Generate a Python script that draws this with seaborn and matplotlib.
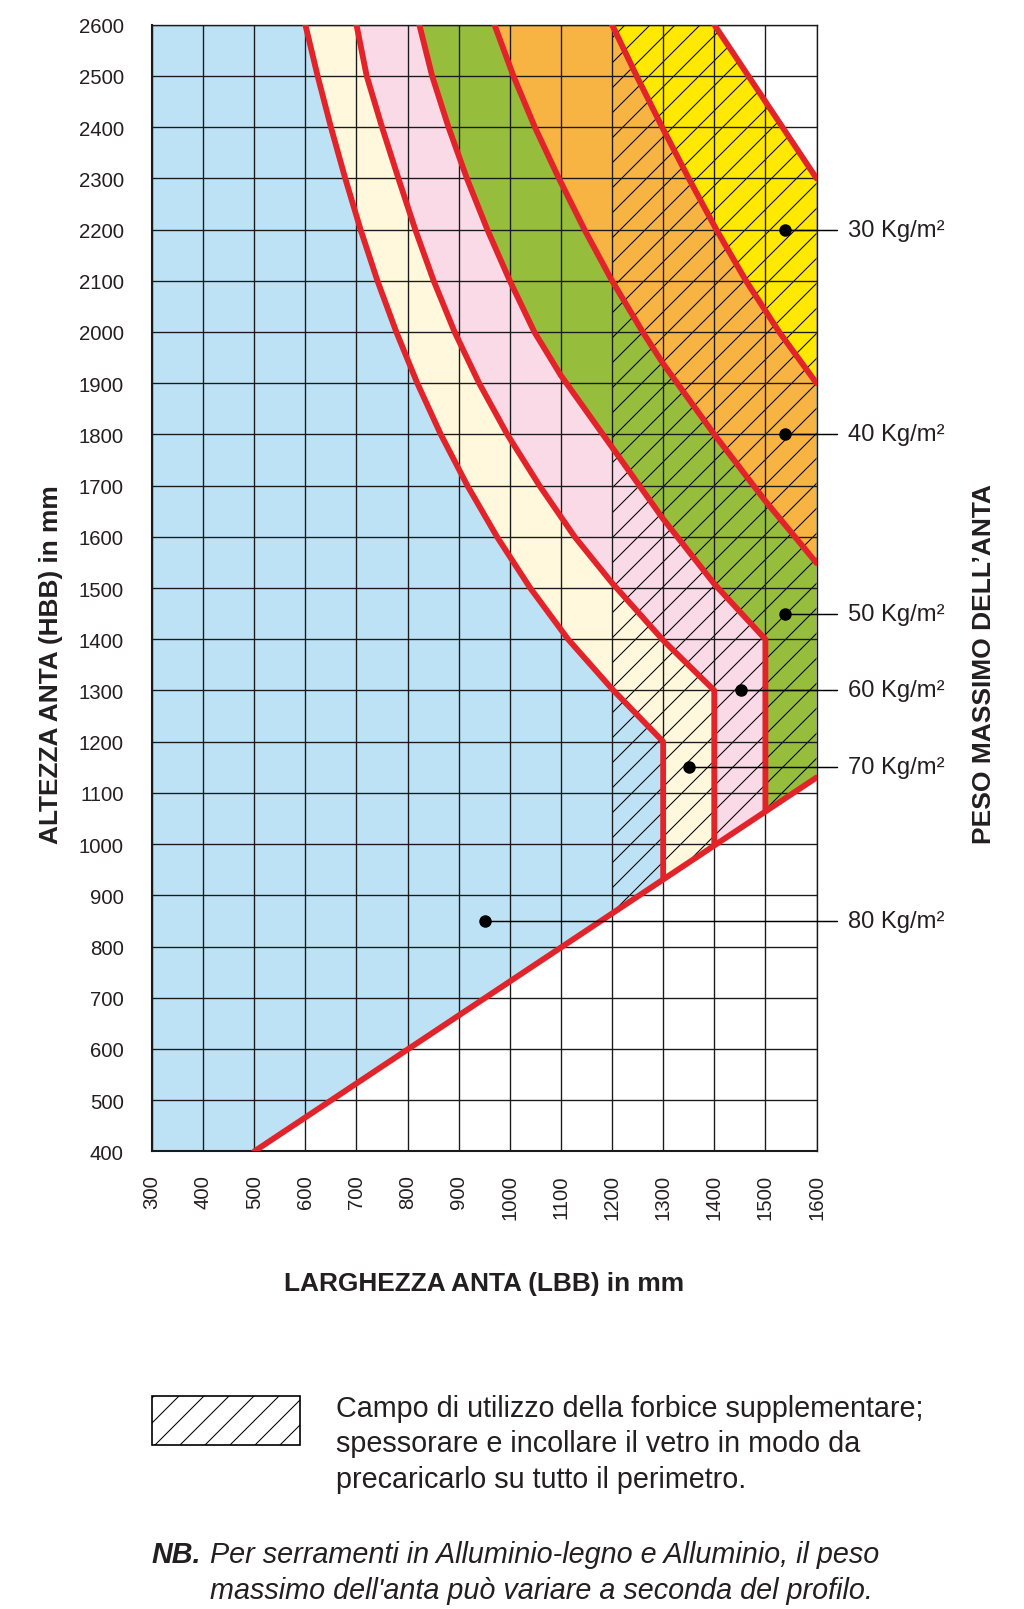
import matplotlib
matplotlib.use("Agg")
import matplotlib.pyplot as plt
import seaborn as sns
from matplotlib import font_manager
from matplotlib.patches import Rectangle

# ---------------- data ----------------
x_ticks = [300, 400, 500, 600, 700, 800, 900, 1000, 1100, 1200, 1300, 1400, 1500, 1600]
y_ticks = [400, 500, 600, 700, 800, 900, 1000, 1100, 1200, 1300, 1400, 1500,
           1600, 1700, 1800, 1900, 2000, 2100, 2200, 2300, 2400, 2500, 2600]

# boundary blue (80) | cream (70)
lim80_w = [600, 624, 650, 678, 708, 741, 778, 819, 865, 917, 975, 1040, 1114, 1200, 1300, 1300]
lim80_h = [2600, 2500, 2400, 2300, 2200, 2100, 2000, 1900, 1800, 1700, 1600, 1500, 1400, 1303, 1200, 932]
# boundary cream (70) | pink (60)
lim70_w = [700, 720, 750, 782, 815, 851, 892, 940, 995, 1058, 1127, 1200, 1300, 1400, 1400]
lim70_h = [2600, 2500, 2400, 2300, 2200, 2100, 2000, 1900, 1800, 1700, 1600, 1510, 1398, 1300, 998]
# boundary pink (60) | green (50)
lim60_w = [823, 848, 880, 916, 956, 1000, 1048, 1100, 1200, 1300, 1400, 1500, 1500]
lim60_h = [2600, 2500, 2400, 2300, 2200, 2100, 2000, 1915, 1775, 1635, 1508, 1400, 1064]
# boundary green (50) | orange (40)
lim50_w = [970, 1007, 1049, 1096, 1146, 1200, 1260, 1300, 1400, 1500, 1600]
lim50_h = [2600, 2500, 2400, 2300, 2200, 2100, 2000, 1938, 1800, 1670, 1549]
# boundary orange (40) | yellow (30)
lim40_w = [1200, 1248, 1298, 1350, 1404, 1462, 1527, 1600]
lim40_h = [2600, 2500, 2400, 2300, 2200, 2100, 2000, 1900]
# outer limit of yellow (30)
lim30_w = [1400, 1500, 1600]
lim30_h = [2600, 2450, 2300]
# lower limit line
min_w = [500, 1600]
min_h = [400, 1130]

hatch_from = 1200   # start of the hatched field (mm)

label_text = ["30 Kg/m²", "40 Kg/m²", "50 Kg/m²", "60 Kg/m²", "70 Kg/m²", "80 Kg/m²"]
dot_x = [1539, 1539, 1539, 1452, 1350, 952]
dot_y = [2200, 1800, 1450, 1300, 1150, 850]
leader_end = 1640
label_x = 1661

# ---------------- style ----------------
BLUE = "#BEE2F5"
CREAM = "#FFF8DC"
PINK = "#F9DAE6"
GREEN = "#96BD3C"
ORANGE = "#F8B443"
YELLOW = "#FFE900"
RED = "#E3232A"
INK = "#231F20"

sns.set_theme(style="white")
names = {f.name for f in font_manager.fontManager.ttflist}
NARROW = "Liberation Sans Narrow" if "Liberation Sans Narrow" in names else "Liberation Sans"
plt.rcParams["font.family"] = [NARROW, "DejaVu Sans"]
plt.rcParams["hatch.linewidth"] = 0.5
plt.rcParams["hatch.color"] = "black"
plt.rcParams["text.color"] = INK

DPI = 150
fig = plt.figure(figsize=(1024 / DPI, 1610 / DPI), dpi=DPI)
fig.patch.set_facecolor("white")
L, R, T, B = 152.0, 816.5, 25.7, 1152.4
ax = fig.add_axes([L / 1024, 1 - B / 1610, (R - L) / 1024, (B - T) / 1610])

X_MIN, X_MAX = x_ticks[0], x_ticks[-1]
Y_MIN, Y_MAX = y_ticks[0], y_ticks[-1]
ax.set_xlim(X_MIN, X_MAX)
ax.set_ylim(Y_MIN, Y_MAX)

# outer usable field (blue base)
out_x = [X_MIN] + min_w + lim30_w[::-1] + [X_MIN]
out_y = [Y_MIN] + min_h + lim30_h[::-1] + [Y_MAX]
base = ax.fill(out_x, out_y, color=BLUE, lw=0, zorder=1)[0]


def right_of(w, h, color):
    px = list(w) + [w[-1], X_MAX, X_MAX]
    py = list(h) + [Y_MIN, Y_MIN, Y_MAX]
    p = ax.fill(px, py, color=color, lw=0, zorder=1)[0]
    p.set_clip_path(base)


right_of(lim80_w, lim80_h, CREAM)
right_of(lim70_w, lim70_h, PINK)
right_of(lim60_w, lim60_h, GREEN)
right_of(lim50_w, lim50_h, ORANGE)
right_of(lim40_w, lim40_h, YELLOW)

hz = ax.axvspan(hatch_from, X_MAX, facecolor="none", edgecolor="black", hatch="//", lw=0, zorder=1.5)
hz.set_clip_path(base)

# grid
ax.set_xticks(x_ticks)
ax.set_yticks(y_ticks)
ax.grid(True, color="#1a1a1a", lw=0.65)
ax.set_axisbelow(False)
for s in ax.spines.values():
    s.set_color("#1a1a1a")
    s.set_linewidth(0.65)
for s in ("left", "bottom"):
    ax.spines[s].set_linewidth(1.0)
ax.tick_params(axis="both", direction="out", length=8.5, width=0.7, color="black",
               labelsize=9.8, labelcolor=INK)
ax.tick_params(axis="x", labelrotation=90, pad=2.5)
ax.tick_params(axis="y", pad=5)
ax.set_xlabel("")
ax.set_ylabel("")

# red limit curves
for w, h in [(lim80_w, lim80_h), (lim70_w, lim70_h), (lim60_w, lim60_h),
             (lim50_w, lim50_h), (lim40_w, lim40_h), (lim30_w, lim30_h), (min_w, min_h)]:
    sns.lineplot(x=w, y=h, sort=False, estimator=None, color=RED, lw=2.8, ax=ax, zorder=4)

# labels with dots and leader lines
for t, dx, dy in zip(label_text, dot_x, dot_y):
    ax.plot([dx, leader_end], [dy, dy], color="black", lw=0.7, zorder=5, clip_on=False)
    ax.text(label_x, dy, t, fontsize=11.4, va="center", ha="left", clip_on=False)
sns.scatterplot(x=dot_x, y=dot_y, color="black", s=36, linewidth=0, ax=ax, zorder=6, clip_on=False)

# axis titles
fig.text(51 / 1024, 1 - 664.5 / 1610, "ALTEZZA ANTA (HBB) in mm", rotation=90,
         fontsize=12.6, fontweight="bold", ha="center", va="center")
fig.text(984 / 1024, 1 - 664.5 / 1610, "PESO MASSIMO DELL’ANTA", rotation=90,
         fontsize=12.7, fontweight="bold", ha="center", va="center")
fig.text(484 / 1024, 1 - 1284 / 1610, "LARGHEZZA ANTA (LBB) in mm",
         fontsize=12.6, fontweight="bold", ha="center", va="center")

# legend for hatched field
fig.add_artist(Rectangle((152 / 1024, 1 - 1445.5 / 1610), 148 / 1024, 48.5 / 1610,
                         transform=fig.transFigure, facecolor="white", edgecolor="black",
                         lw=0.8, hatch="//"))
leg_lines = ["Campo di utilizzo della forbice supplementare;",
             "spessorare e incollare il vetro in modo da",
             "precaricarlo su tutto il perimetro."]
for i, s in enumerate(leg_lines):
    fig.text(336 / 1024, 1 - (1409 + 35.5 * i) / 1610, s, fontsize=13.8, ha="left", va="center")

fig.text(152 / 1024, 1 - 1555 / 1610, "NB.", fontsize=13.8, fontweight="bold",
         style="italic", ha="left", va="center")
fig.text(209.5 / 1024, 1 - 1555 / 1610,
         "Per serramenti in Alluminio-legno e Alluminio, il peso",
         fontsize=13.8, style="italic", ha="left", va="center")
fig.text(209.5 / 1024, 1 - 1591 / 1610,
         "massimo dell'anta può variare a seconda del profilo.",
         fontsize=13.8, style="italic", ha="left", va="center")

fig.savefig("out.png", dpi=DPI)
